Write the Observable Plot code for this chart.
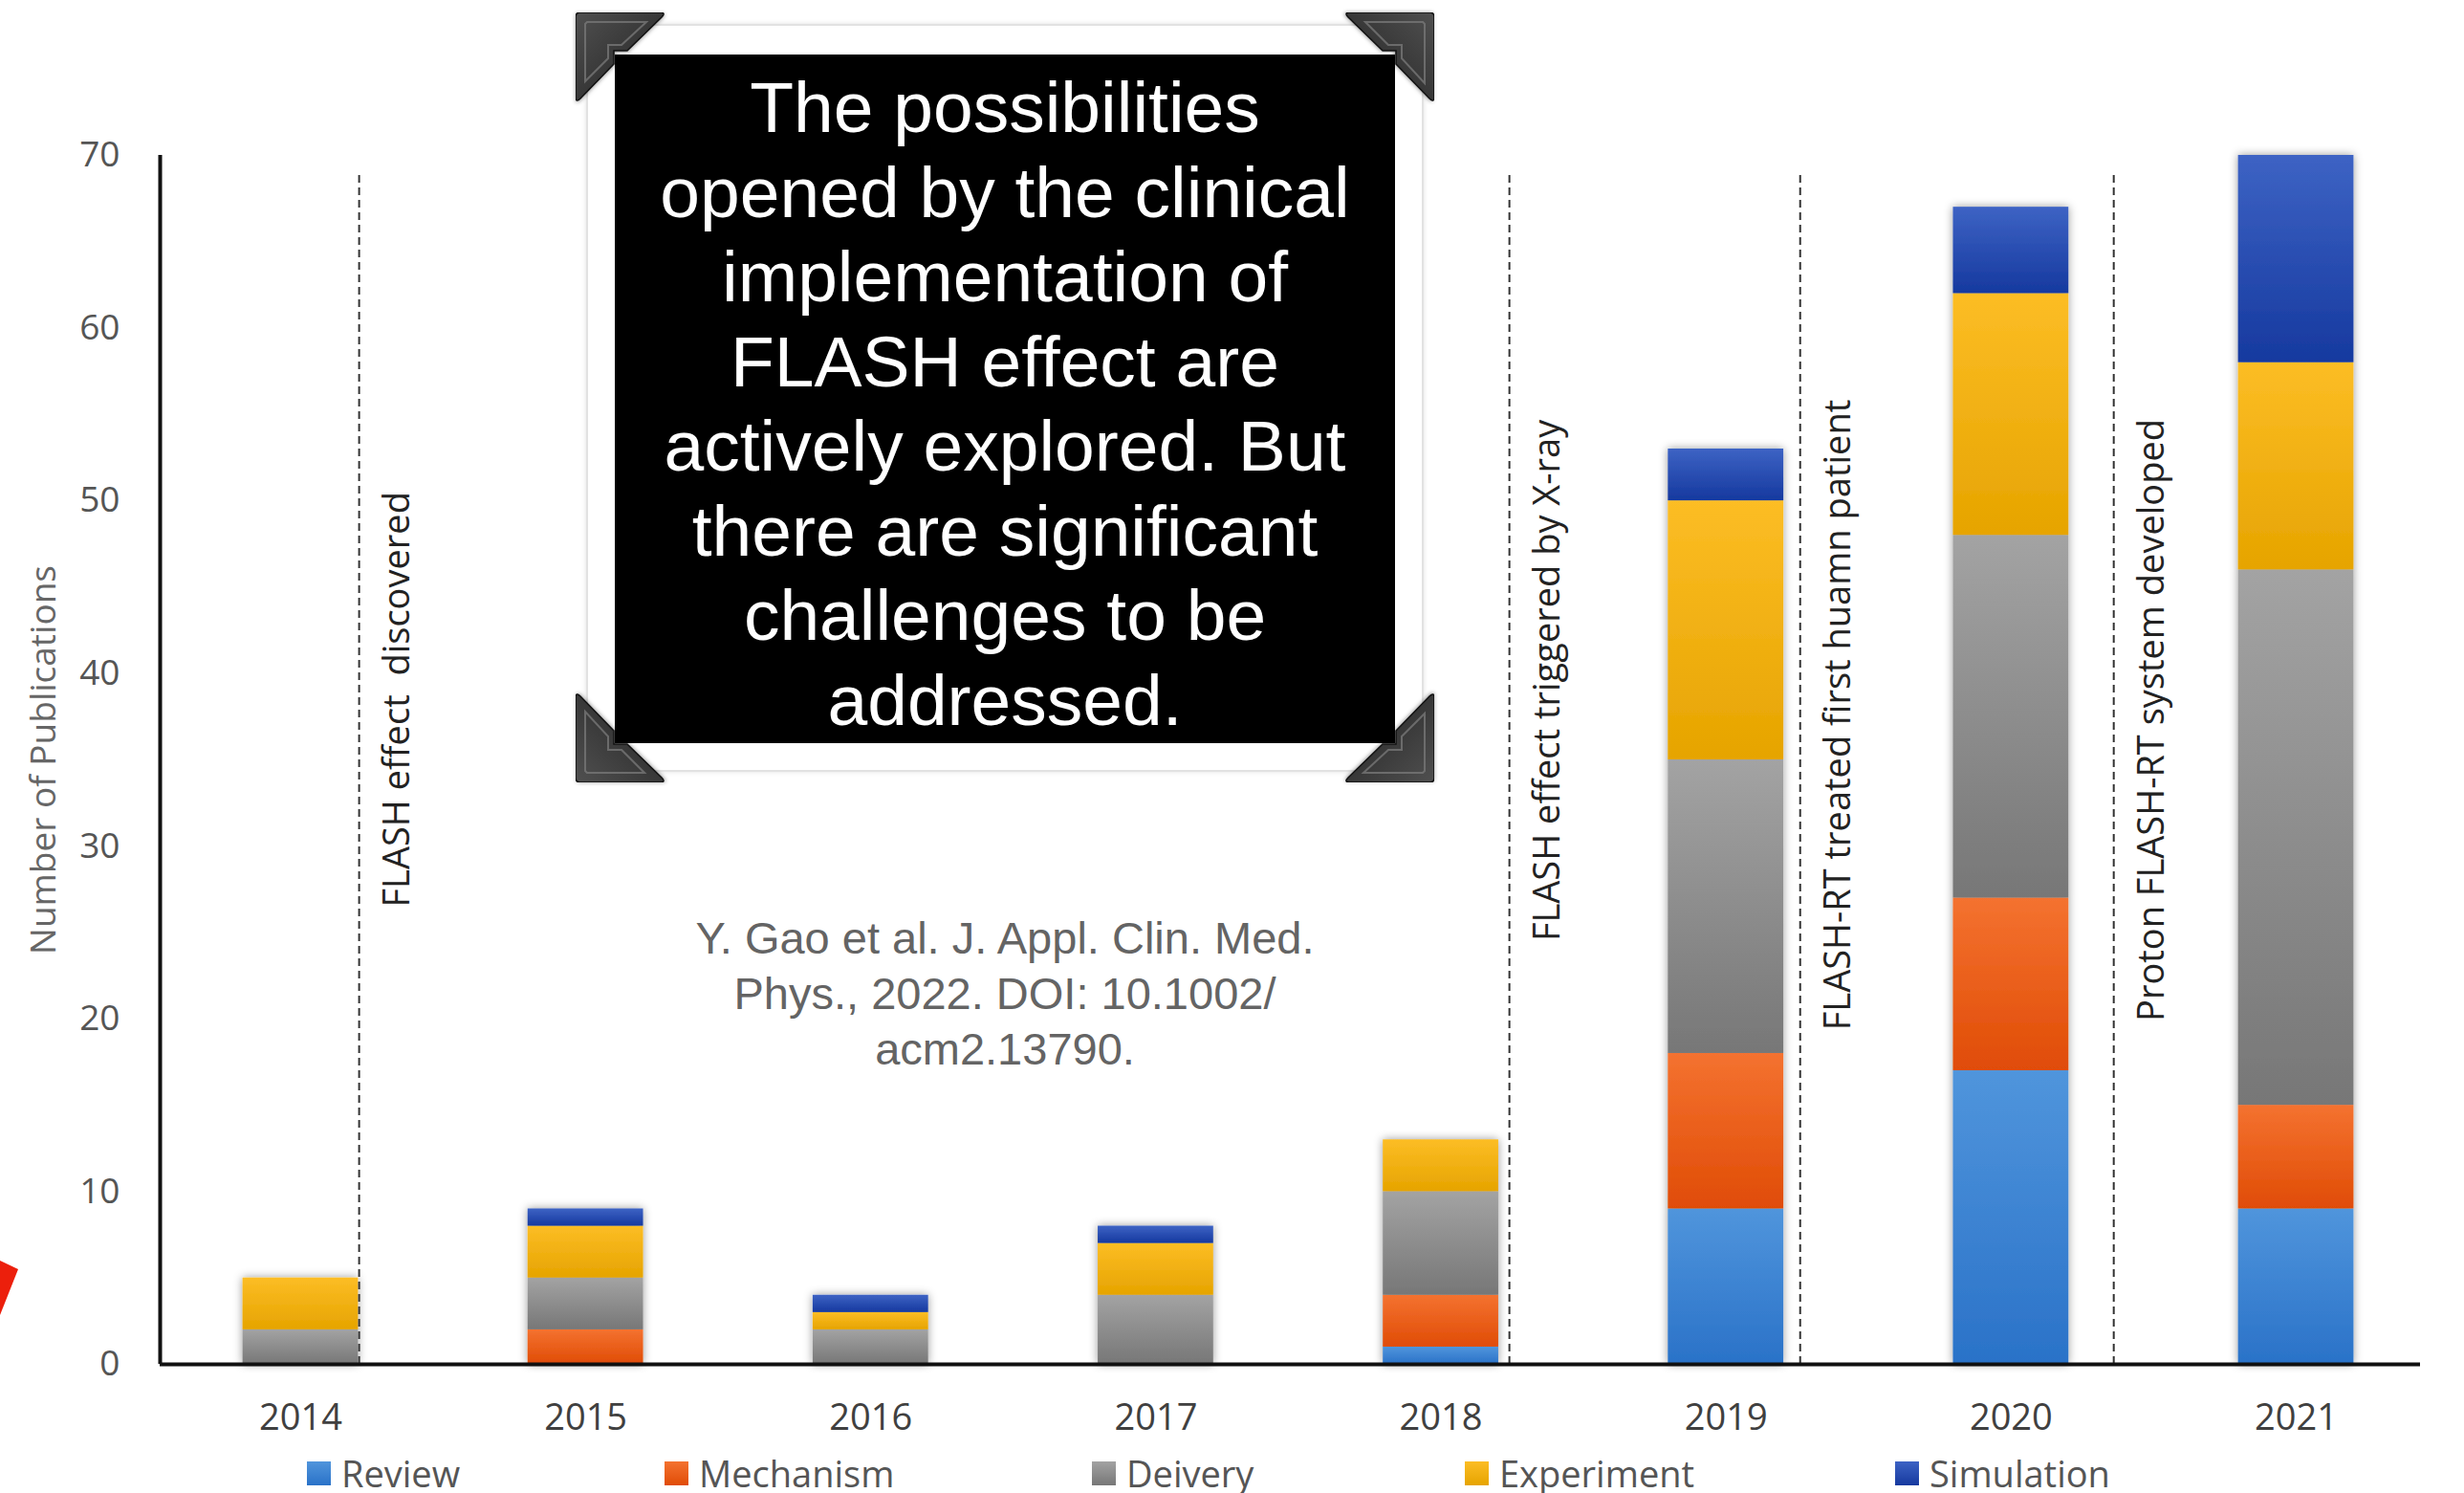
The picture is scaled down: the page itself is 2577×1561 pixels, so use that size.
<!DOCTYPE html>
<html>
<head>
<meta charset="utf-8">
<script src="https://cdn.jsdelivr.net/npm/d3@7"></script>
<script src="https://cdn.jsdelivr.net/npm/@observablehq/plot@0.6"></script>
<style>
  html, body { margin: 0; padding: 0; background: #fff; }
  body { width: 2577px; height: 1561px; position: relative; overflow: hidden; font-family: "Open Sans", sans-serif; }
  #chart { position: absolute; left: 0; top: 0; }
  #chart svg text { white-space: pre; }
  #legend { position: absolute; left: 0; top: 1515px; width: 2577px; height: 46px; }
  .item { position: absolute; top: 0; height: 50px; display: flex; align-items: center; font-size: 38px; color: #555; font-family: "Open Sans", sans-serif; }
  .sw { width: 25px; height: 25px; margin-right: 11px; }
  #frame { position: absolute; left: 613px; top: 25px; width: 876px; height: 782px; background: #fff; border: 2px solid #e2e2e2; box-sizing: border-box; box-shadow: 0 0 5px rgba(0,0,0,0.12); }
  #box { position: absolute; left: 643px; top: 57px; width: 816px; height: 720px; background: #000; color: #fff; font-family: "Liberation Sans", Arial, sans-serif; font-size: 75px; line-height: 88.5px; text-align: center; padding-top: 11px; box-sizing: border-box; white-space: nowrap; }
  .tab { position: absolute; width: 94px; height: 94px; filter: drop-shadow(0 1px 2px rgba(0,0,0,0.4)); }
  #cite { position: absolute; left: 551px; top: 952px; width: 1000px; text-align: center; font-family: "Liberation Sans", Arial, sans-serif; font-size: 47px; line-height: 58px; color: #646464; }
  #arrow { position: absolute; left: 0; top: 1310px; }
</style>
</head>
<body>
<div id="chart"></div>
<div id="legend"></div>
<div id="frame"></div>
<div id="box"></div>
<div id="tabs"></div>
<div id="cite"></div>
<svg id="arrow" width="30" height="70"><polygon points="0,8 19,17 0,65" fill="#ec1f0c"/></svg>
<script>
// ---------------- data ----------------
const years = [2014, 2015, 2016, 2017, 2018, 2019, 2020, 2021];
const types = ["Review", "Mechanism", "Deivery", "Experiment", "Simulation"];
const review     = [0, 0, 0, 0, 1,  9, 17,  9];
const mechanism  = [0, 2, 0, 0, 3,  9, 10,  6];
const delivery   = [2, 3, 2, 4, 6, 17, 21, 31];
const experiment = [3, 3, 1, 3, 3, 15, 14, 12];
const simulation = [0, 1, 1, 1, 0,  3,  5, 12];
const yTicks = [0, 10, 20, 30, 40, 50, 60, 70];
const eventYears  = [2014.205, 2018.24, 2019.26, 2020.36];
const eventLabels = ["FLASH effect  discovered", "FLASH effect triggered by X-ray", "FLASH-RT treated first huamn patient", "Proton FLASH-RT system developed"];
const eventLabelY = [38.5, 39.6, 37.6, 37.3];
const boxLines = ["The possibilities", "opened by the clinical", "implementation of", "FLASH effect are", "actively explored. But", "there are significant", "challenges to be", "addressed."];
const citeLines = ["Y. Gao et al. J. Appl. Clin. Med.", "Phys., 2022. DOI: 10.1002/", "acm2.13790."];

// ---------------- styles ----------------
const gradColors = [
  ["#5095dc", "#2a72c8"],
  ["#f47230", "#e04c06"],
  ["#a3a3a3", "#777777"],
  ["#fcbd25", "#e6a400"],
  ["#3d63c4", "#16399f"]
];
const legendLeft = [321, 695, 1142, 1532, 1982];

// ---------------- build table ----------------
const series = [review, mechanism, delivery, experiment, simulation];
const rows = [];
years.forEach((yr, i) => types.forEach((t, j) => rows.push({year: yr, type: t, count: series[j][i]})));
const events = eventYears.map((x, i) => ({x, label: eventLabels[i], ly: eventLabelY[i]}));

const halfBar = 0.2025;
const xDomain = [2013.507, 2021.436];

const chart = Plot.plot({
  width: 2577,
  height: 1515,
  marginLeft: 167,
  marginRight: 46,
  marginTop: 162,
  marginBottom: 89,
  style: {fontFamily: "'Open Sans', sans-serif", background: "transparent", overflow: "visible"},
  x: {domain: xDomain},
  y: {domain: [0, 70]},
  color: {domain: types, range: types.map((t, i) => `url(#grad${i})`)},
  marks: [
    Plot.rectY(rows, {x1: d => d.year - halfBar, x2: d => d.year + halfBar, y: "count", fill: "type"}),
    Plot.ruleX(events, {x: "x", y1: 0, y2: 69, stroke: "#333", strokeWidth: 2, strokeDasharray: "8 5"}),
    Plot.text(events, {x: "x", y: "ly", text: "label", rotate: -90, dx: 40, fontSize: 38, fill: "#222"}),
    Plot.ruleY([0], {stroke: "#111", strokeWidth: 4}),
    Plot.ruleX([xDomain[0]], {y1: 0, y2: 70, stroke: "#111", strokeWidth: 4}),
    Plot.axisX({ticks: years, tickFormat: d => String(d), tickSize: 0, tickPadding: 42, fontSize: 38, fill: "#404040", label: null}),
    Plot.axisY({ticks: yTicks, tickSize: 0, tickPadding: 42, fontSize: 37, fill: "#555", label: null}),
    Plot.text(["Number of Publications"], {frameAnchor: "left", textAnchor: "middle", rotate: -90, dx: -121, fontSize: 37, fill: "#666"})
  ]
});
document.getElementById("chart").appendChild(chart);

// gradients + shadow
const svg = d3.select(chart);
const defs = svg.insert("defs", ":first-child");
gradColors.forEach((c, i) => {
  const g = defs.append("linearGradient").attr("id", `grad${i}`).attr("x1", 0).attr("y1", 0).attr("x2", 0).attr("y2", 1);
  g.append("stop").attr("offset", "0%").attr("stop-color", c[0]);
  g.append("stop").attr("offset", "100%").attr("stop-color", c[1]);
});
const f = defs.append("filter").attr("id", "shadow").attr("x", "-30%").attr("y", "-10%").attr("width", "160%").attr("height", "120%");
f.append("feDropShadow").attr("dx", 0).attr("dy", 0).attr("stdDeviation", 5).attr("flood-color", "#000").attr("flood-opacity", 0.4);
svg.selectAll('g[aria-label="rect"]').attr("filter", "url(#shadow)");

// legend
const legend = d3.select("#legend");
types.forEach((t, i) => {
  const it = legend.append("div").attr("class", "item").style("left", legendLeft[i] + "px");
  it.append("div").attr("class", "sw").style("background", `linear-gradient(${gradColors[i][0]}, ${gradColors[i][1]})`);
  it.append("span").text(t);
});

// boxed statement
d3.select("#box").html(boxLines.map(l => `<div>${l}</div>`).join(""));
d3.select("#cite").html(citeLines.map(l => `<div>${l}</div>`).join(""));

// photo corners
const tabPath = "M5,0 H88 Q95,0 90,5 L54,40 H40 V54 L5,90 Q0,95 0,88 V5 Q0,0 5,0 Z";
const tabPos = [[602, 13, 0], [1406, 13, 90], [1406, 724, 180], [602, 724, 270]];
const tabs = d3.select("#tabs");
tabPos.forEach(([x, y, r], i) => {
  const s = tabs.append("svg").attr("class", "tab").attr("width", 94).attr("height", 94)
    .style("left", x + "px").style("top", y + "px").style("transform", `rotate(${r}deg)`);
  const d = s.append("defs");
  const g = d.append("linearGradient").attr("id", "tg" + i).attr("x1", 0).attr("y1", 0).attr("x2", 1).attr("y2", 1);
  g.append("stop").attr("offset", "0%").attr("stop-color", "#505050");
  g.append("stop").attr("offset", "100%").attr("stop-color", "#202020");
  s.append("path").attr("d", tabPath).attr("fill", `url(#tg${i})`).attr("stroke", "#111").attr("stroke-width", 1.5);
  s.append("path").attr("d", "M12,10 H74 L48,34 H34 V48 L10,72 V12 Z").attr("fill", "none").attr("stroke", "#777").attr("stroke-width", 2).attr("opacity", 0.8);
});
</script>
</body>
</html>
